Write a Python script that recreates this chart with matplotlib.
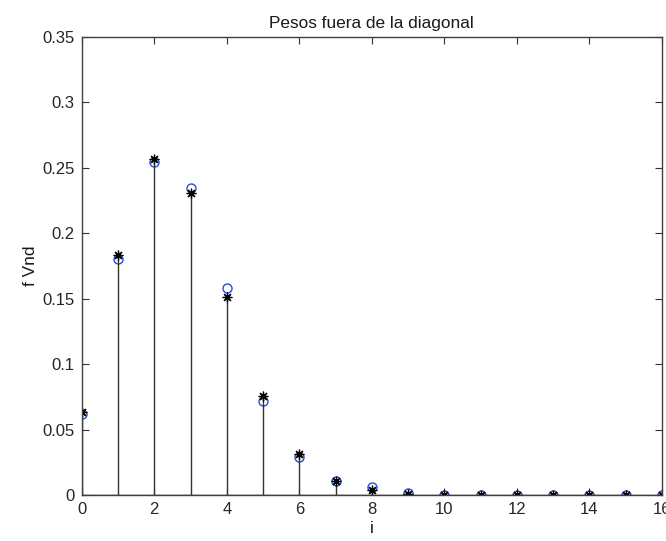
import numpy as np
import matplotlib.pyplot as plt

plt.rcParams['font.family'] = ['Liberation Sans', 'DejaVu Sans']

# indices
i_vals = np.arange(0, 17)
# weights (stars, drawn as stems)
f_star = [0.0636, 0.1833, 0.2563, 0.2309, 0.151, 0.0759, 0.031, 0.011,
          0.0038, 0.001, 0.0, 0.0, 0.0, 0.0, 0.0, 0.0, 0.0]
# weights (circles)
f_circ = [0.0619, 0.180, 0.2543, 0.2347, 0.158, 0.072, 0.0288, 0.011,
          0.006, 0.0015, 0.0002, 0.0, 0.0, 0.0, 0.0, 0.0, 0.0]

fig = plt.figure(figsize=(6.66, 5.41), dpi=100)
ax = fig.add_axes([0.1227, 0.085, 0.994 - 0.1227, 0.847])

ml, sl, bl = ax.stem(i_vals, f_star, linefmt='k-', markerfmt='k', basefmt='k-')
ml.set_marker((8, 2, 0))
ml.set_markersize(7)
ml.set_markeredgewidth(0.9)
sl.set_linewidth(1.0)
sl.set_color((0.2, 0.2, 0.2))
bl.set_linewidth(1.0)
ax.plot(i_vals, f_star, 'k.', ms=3)
ax.plot(i_vals, f_circ, 'o', mfc='none', mec=(0.15, 0.3, 0.85), ms=6.5, mew=1.0,
        zorder=1.5)

ax.set_xlim(0, 16)
ax.set_ylim(0, 0.35)
ax.set_xticks(np.arange(0, 17, 2))
ax.set_yticks(np.arange(0, 0.351, 0.05))
ax.set_yticklabels(['0', '0.05', '0.1', '0.15', '0.2', '0.25', '0.3', '0.35'])
ax.tick_params(direction='in', top=True, right=True, labelsize=12, length=5,
               pad=5, colors=(0.2, 0.2, 0.2), labelcolor=(0.15, 0.15, 0.15))
for s in ax.spines.values():
    s.set_linewidth(1.0)
    s.set_color((0.25, 0.25, 0.25))

ax.set_title('Pesos fuera de la diagonal', fontsize=12.4, pad=6, color=(0.1, 0.1, 0.1))
ax.set_xlabel('i', fontsize=12.4, labelpad=3, color=(0.1, 0.1, 0.1))
ax.set_ylabel('f Vnd', fontsize=12.4, labelpad=3, color=(0.1, 0.1, 0.1))

fig.savefig('out.png', dpi=100)
